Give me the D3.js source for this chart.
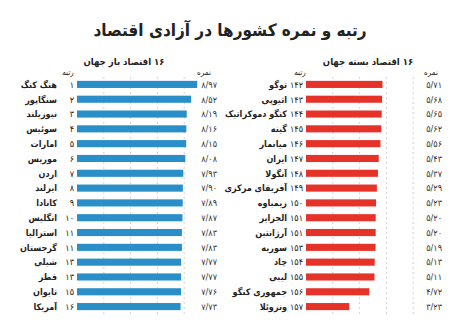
<!DOCTYPE html>
<html>
<head>
<meta charset="utf-8">
<script src="https://cdn.jsdelivr.net/npm/d3@7"></script>
<style>
  html, body { margin: 0; padding: 0; background: #fff; }
  svg { display: block; }
  text { font-family: "DejaVu Sans Condensed", "DejaVu Sans", sans-serif; fill: #222; }
</style>
</head>
<body>
<svg id="chart" width="450" height="333"></svg>
<script>
const title = "رتبه و نمره کشورها در آزادی اقتصاد";
const openTitle = "۱۶ اقتصاد باز جهان";
const closedTitle = "۱۶ اقتصاد بسته جهان";
const rankLabel = "رتبه";
const scoreLabel = "نمره";

const openCountries = ["هنگ کنگ","سنگاپور","نیوزیلند","سوئیس","امارات","موریس","اردن","ایرلند","کانادا","انگلیس","استرالیا","گرجستان","شیلی","قطر","تایوان","آمریکا"];
const openRanks = [1,2,3,4,5,6,7,8,9,10,11,11,13,13,15,16];
const openScores = [8.97,8.52,8.19,8.16,8.15,8.08,7.93,7.90,7.89,7.87,7.83,7.83,7.77,7.77,7.76,7.73];

const closedCountries = ["توگو","اتیوپی","کنگو دموکراتیک","گینه","میانمار","ایران","آنگولا","آفریقای مرکزی","زیمباوه","الجزایر","آرژانتین","سوریه","چاد","لیبی","جمهوری کنگو","ونزوئلا"];
const closedRanks = [142,143,144,145,146,147,148,149,150,151,151,153,154,155,156,157];
const closedScores = [5.71,5.68,5.65,5.62,5.56,5.43,5.37,5.29,5.23,5.20,5.20,5.19,5.13,5.11,4.72,3.23];

const gridTicks = [2,4,6,8];

const fa = s => String(s).replace(/[0-9]/g, d => "۰۱۲۳۴۵۶۷۸۹"[+d]);
const fmtScore = v => fa(v.toFixed(2).replace(".", "/"));

const svg = d3.select("#chart");

svg.append("text")
  .attr("x", 230).attr("y", 36)
  .attr("direction", "rtl")
  .attr("text-anchor", "middle")
  .style("font-size", "17px").style("font-weight", "bold")
  .text(title);

function panel(cfg) {
  const { countries, ranks, scores, x0, color, head, nameX, valueX, rankHeadX, scoreHeadX, headX } = cfg;
  const x = d3.scaleLinear().domain([0, 10]).range([x0, x0 + 134]);
  const y = d3.scaleBand().domain(d3.range(countries.length)).range([77, 314])
    .paddingInner(0.52).paddingOuter(0.26);
  const g = svg.append("g");

  g.selectAll("line.grid").data(gridTicks).join("line")
    .attr("class", "grid")
    .attr("x1", d => x(d)).attr("x2", d => x(d))
    .attr("y1", 77).attr("y2", 315)
    .attr("stroke", "#c8c8c8").attr("stroke-width", 0.8)
    .attr("stroke-dasharray", "2,3");

  g.selectAll("rect").data(scores).join("rect")
    .attr("x", x(0)).attr("y", (d, i) => y(i))
    .attr("width", d => x(d) - x(0)).attr("height", y.bandwidth())
    .attr("fill", color);

  g.selectAll("text.rank").data(ranks).join("text")
    .attr("class", "rank")
    .attr("x", x(0) - 3).attr("y", (d, i) => y(i) + y.bandwidth() / 2 + 3.3)
    .attr("text-anchor", "end")
    .style("font-size", "9px")
    .text(d => fa(d));

  g.selectAll("text.name").data(countries).join("text")
    .attr("class", "name")
    .attr("direction", "rtl")
    .attr("x", nameX).attr("y", (d, i) => y(i) + y.bandwidth() / 2 + 3.3)
    .attr("text-anchor", "start")
    .style("font-size", "9px").style("font-weight", "bold")
    .text(d => d);

  g.selectAll("text.val").data(scores).join("text")
    .attr("class", "val")
    .attr("x", valueX).attr("y", (d, i) => y(i) + y.bandwidth() / 2 + 3.3)
    .attr("text-anchor", "end")
    .style("font-size", "9px").style("fill", "#333")
    .text(d => fmtScore(d));

  g.append("text").attr("x", headX).attr("y", 65)
    .attr("direction", "rtl")
    .attr("text-anchor", "middle")
    .style("font-size", "9.5px").style("font-weight", "bold")
    .text(head);
  g.append("text").attr("x", rankHeadX).attr("y", 75)
    .attr("direction", "rtl")
    .attr("text-anchor", "middle")
    .style("font-size", "8px")
    .text(rankLabel);
  g.append("text").attr("x", scoreHeadX).attr("y", 75)
    .attr("direction", "rtl")
    .attr("text-anchor", "middle")
    .style("font-size", "8px")
    .text(scoreLabel);
}

panel({ countries: openCountries, ranks: openRanks, scores: openScores, x0: 77,
  color: "#2a8ec9", head: openTitle, nameX: 57, valueX: 217,
  rankHeadX: 68, scoreHeadX: 204, headX: 124 });

panel({ countries: closedCountries, ranks: closedRanks, scores: closedScores, x0: 306,
  color: "#e5332a", head: closedTitle, nameX: 287, valueX: 442,
  rankHeadX: 300, scoreHeadX: 431, headX: 368 });
</script>
</body>
</html>
